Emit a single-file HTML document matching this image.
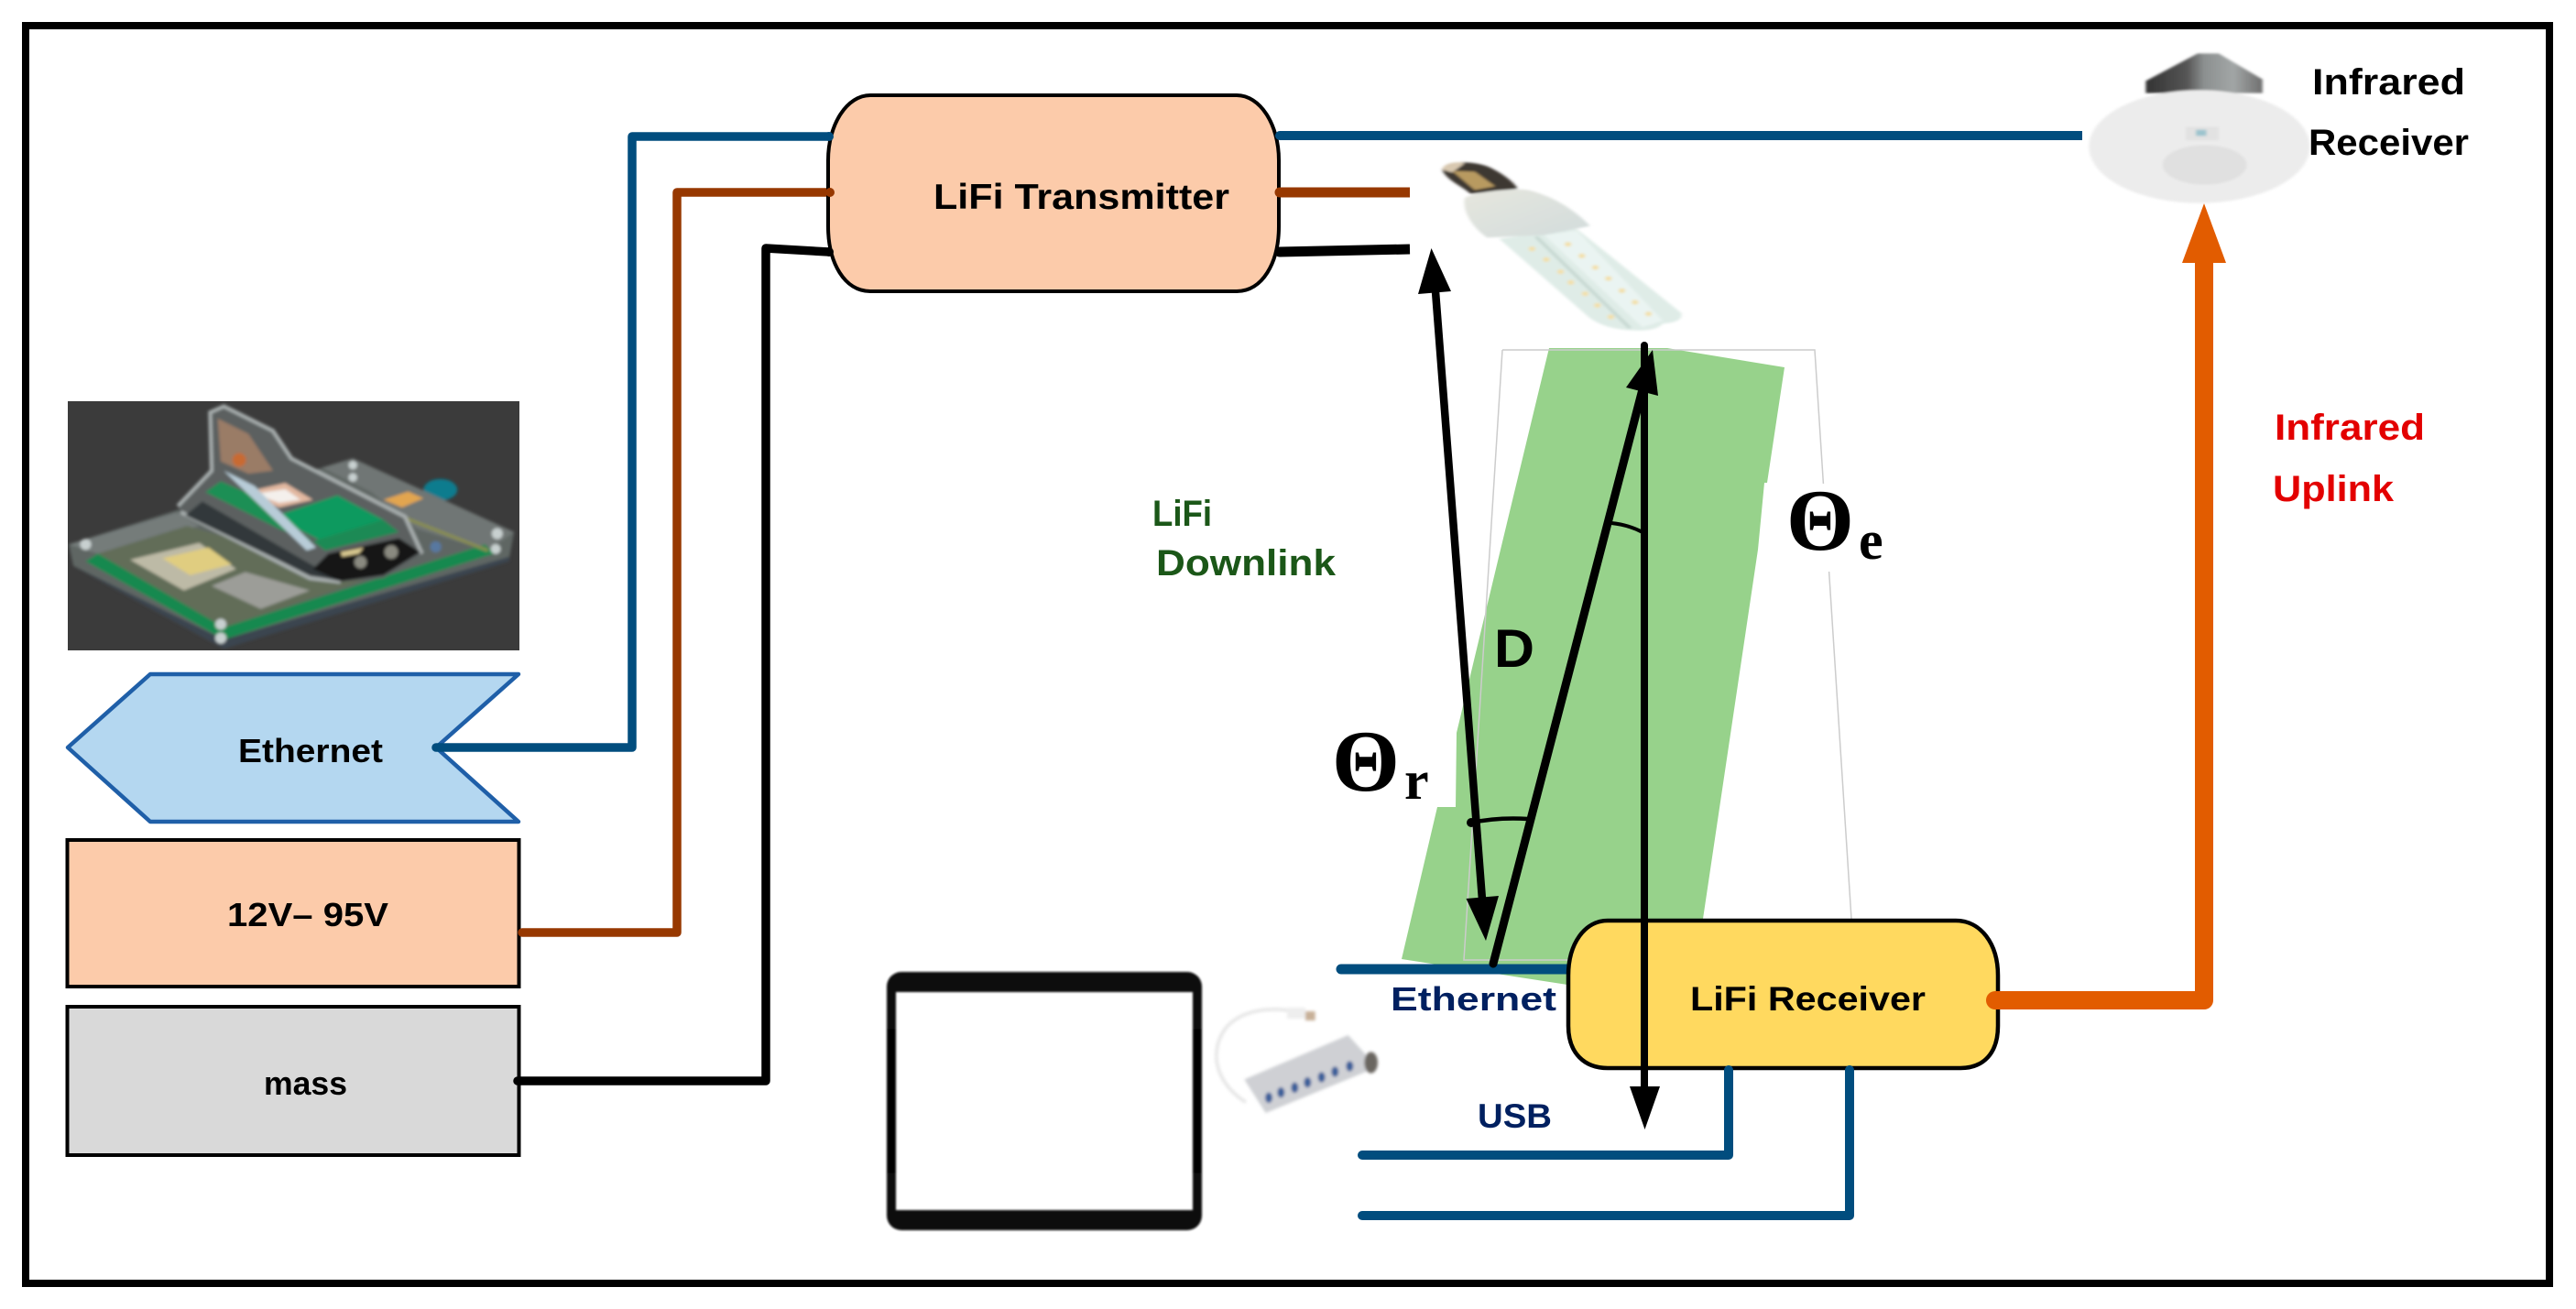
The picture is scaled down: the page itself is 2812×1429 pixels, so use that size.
<!DOCTYPE html>
<html>
<head>
<meta charset="utf-8">
<style>
html,body{margin:0;padding:0;background:#fff;width:2812px;height:1429px;overflow:hidden}
svg{display:block}
text{font-family:"Liberation Sans",sans-serif;font-weight:bold;fill:#000}
</style>
</head>
<body>
<svg width="2812" height="1429" viewBox="0 0 2812 1429" xmlns="http://www.w3.org/2000/svg">
<defs>
<filter id="b1" x="-5%" y="-5%" width="110%" height="110%"><feGaussianBlur stdDeviation="5"/></filter>
<filter id="b2" x="-5%" y="-5%" width="110%" height="110%"><feGaussianBlur stdDeviation="1"/></filter>
<filter id="b3" x="-5%" y="-5%" width="110%" height="110%"><feGaussianBlur stdDeviation="4"/></filter>
<linearGradient id="tab" x1="0" y1="0" x2="0" y2="1"><stop offset="0" stop-color="#0c0c0c"/><stop offset=".5" stop-color="#000"/><stop offset="1" stop-color="#0c0c0c"/></linearGradient>
<linearGradient id="irtop" x1="0" y1="0" x2="1" y2="0"><stop offset="0" stop-color="#333"/><stop offset=".35" stop-color="#555"/><stop offset=".5" stop-color="#8c9090"/><stop offset=".75" stop-color="#a2a6a6"/><stop offset="1" stop-color="#6f6f6f"/></linearGradient>
<linearGradient id="capg" x1="0" y1="0" x2="1" y2="1"><stop offset="0" stop-color="#e6e6de"/><stop offset="1" stop-color="#d2dcdc"/></linearGradient>
</defs>
<rect width="2812" height="1429" fill="#fff"/>
<rect x="28" y="28" width="2755" height="1373" fill="none" stroke="#000" stroke-width="8"/>

<!-- PCB photo -->
<rect x="74" y="438" width="493" height="272" fill="#3b3b3b"/>
<svg x="74" y="438" width="493" height="272" viewBox="74 438 493 272">
<g transform="translate(70,430) scale(.3353)" filter="url(#b1)">
<ellipse cx="1225" cy="312" rx="55" ry="35" fill="#0f7c8e"/>
<polygon points="15,490 370,378 840,240 940,210 1465,450 1450,530 520,830 30,560" fill="#5f6664"/>
<polygon points="840,240 940,210 1465,450 1380,510 1150,440 1000,320" fill="#6f7674"/>
<polygon points="15,490 370,385 440,430 110,520" fill="#747c7a"/>
<polygon points="110,520 400,430 1000,600 520,760" fill="#626d58"/>
<polygon points="70,545 110,520 520,760 1370,490 1400,520 520,800" fill="#15894f"/>
<polygon points="30,560 520,800 1450,530 1450,545 520,830" fill="#3a4450"/>
<polygon points="215,540 440,485 560,570 390,640" fill="#bdbaa6"/>
<polygon points="320,535 470,500 545,555 410,590" fill="#e0cd80"/>
<polygon points="480,625 590,580 800,640 640,700" fill="#9c9d98"/>
<polygon points="1040,345 1120,318 1170,340 1100,370" fill="#e2a550"/>
<polyline points="1100,400 1380,510" stroke="#8a8f50" stroke-width="10" fill="none"/>
<polygon points="370,365 480,250 475,60 520,40 680,120 740,210 1110,400 1165,520 1040,600 900,612 800,600 380,385" fill="#5b6161"/>
<polyline points="370,365 480,250 475,60 520,40 680,120 740,210 1110,400 1165,520" fill="none" stroke="#a8afaf" stroke-width="12"/>
<polyline points="380,385 800,600 900,612" fill="none" stroke="#a8afaf" stroke-width="12"/>
<polygon points="395,395 800,590 900,610 760,530 450,350" fill="#32373a"/>
<polygon points="500,80 600,130 680,250 600,260 510,220" fill="#9a7b66"/>
<circle cx="570" cy="215" r="22" fill="#c86a30"/>
<polygon points="460,320 510,285 650,345 690,395 810,480 700,440" fill="#1b8f55"/>
<polygon points="680,400 890,330 1040,410 840,480" fill="#0f9a5f"/>
<polygon points="810,480 1040,410 1090,450 850,510" fill="#1e8a55"/>
<polygon points="590,320 720,290 810,345 700,370" fill="#e2b8a0"/>
<polygon points="620,325 720,310 770,345 700,355" fill="#f4f0ec"/>
<polygon points="520,250 620,300 820,500 790,510" fill="#b8ccd8"/>
<polygon points="860,520 1090,470 1160,515 1040,590 900,610 810,570" fill="#121212"/>
<circle cx="1065" cy="515" r="22" fill="#8a8a80"/><circle cx="965" cy="548" r="20" fill="#8a8a80"/>
<polygon points="900,515 975,500 960,520 905,530" fill="#d8c890"/>
<g fill="#c8d0d0"><circle cx="70" cy="490" r="18"/><circle cx="510" cy="750" r="18"/><circle cx="510" cy="795" r="18"/><circle cx="1410" cy="455" r="18"/><circle cx="1405" cy="505" r="16"/><circle cx="940" cy="232" r="14"/><circle cx="940" cy="272" r="14"/></g>
<circle cx="1210" cy="498" r="18" fill="#5878a0"/>
</g>
</svg>

<!-- Left boxes -->
<polygon points="74,816 164,736 566,736 476,816 566,897 164,897" fill="#b4d7f0" stroke="#1f5fa8" stroke-width="4.5" stroke-linejoin="round"/>
<rect x="73.5" y="917" width="493" height="160" fill="#fccbaa" stroke="#000" stroke-width="4"/>
<rect x="73.5" y="1099" width="493" height="162" fill="#d9d9d9" stroke="#000" stroke-width="4"/>

<!-- Left wires -->
<polyline points="476,816 690,816 690,149 905,149" fill="none" stroke="#014d7e" stroke-width="9.5" stroke-linecap="round" stroke-linejoin="round"/>
<polyline points="570,1018 739,1018 739,210 907,210" fill="none" stroke="#973800" stroke-width="9.5" stroke-linecap="round" stroke-linejoin="round"/>
<polyline points="565,1180 836,1180 836,271 905,275" fill="none" stroke="#000" stroke-width="9.5" stroke-linecap="round" stroke-linejoin="round"/>

<!-- Transmitter -->
<path d="M950,104 H1350 C1375,104 1396,135 1396,175 V247 C1396,287 1378,318 1350,318 H950 C922,318 904,287 904,247 V175 C904,135 925,104 950,104 Z" fill="#fccbaa" stroke="#000" stroke-width="4"/>
<circle cx="905" cy="149" r="5" fill="#014d7e"/><circle cx="906" cy="210" r="5" fill="#973800"/><circle cx="905" cy="275" r="5" fill="#000"/>
<line x1="1397" y1="148" x2="2273" y2="148" stroke="#014d7e" stroke-width="10"/>
<circle cx="1397" cy="148" r="5" fill="#014d7e"/>
<line x1="1397" y1="210" x2="1539" y2="210" stroke="#973800" stroke-width="11"/>
<circle cx="1397" cy="210" r="5.5" fill="#973800"/>
<line x1="1397" y1="275" x2="1539" y2="272" stroke="#000" stroke-width="11"/>
<circle cx="1397" cy="275" r="5.5" fill="#000"/>

<!-- Bulb -->
<g transform="translate(1400,100) scale(.4464,.3333)" filter="url(#b3)">
<path d="M530,482 L720,450 L975,725 Q982,755 930,760 Q915,785 860,782 Q790,780 750,740 Z" fill="#dfecE7"/>
<path d="M640,470 L720,455 L930,750 L880,772 Z" fill="#eaf4f2"/>
<line x1="620" y1="475" x2="850" y2="775" stroke="#c6d8d2" stroke-width="9"/>
<g fill="#f3dfa8">
<circle cx="610" cy="515" r="8"/><circle cx="645" cy="550" r="8"/><circle cx="680" cy="590" r="8"/><circle cx="705" cy="625" r="8"/><circle cx="740" cy="662" r="8"/><circle cx="770" cy="700" r="8"/><circle cx="803" cy="738" r="8"/>
<circle cx="698" cy="500" r="8"/><circle cx="732" cy="538" r="8"/><circle cx="765" cy="576" r="8"/><circle cx="797" cy="612" r="8"/><circle cx="830" cy="652" r="8"/><circle cx="862" cy="690" r="8"/><circle cx="895" cy="728" r="8"/>
</g>
<path d="M390,255 C400,225 470,225 510,250 C540,270 565,295 575,318 L460,335 C440,310 400,290 390,255 Z" fill="#3c3733"/>
<path d="M390,255 C395,232 430,228 445,235 L415,265 Z" fill="#d8c8b0"/>
<polygon points="415,260 470,262 520,310 470,322" fill="#b89a60"/>
<path d="M445,350 C460,330 560,315 600,322 C670,345 720,395 752,440 L640,470 L500,478 C470,450 440,400 445,350 Z" fill="url(#capg)"/>
</g>

<!-- Beam -->
<polygon points="1691,380 1820,380 1832,382 1948,401 1929,527 1926,527 1919,600 1859,1003 1800,1100 1711,1075 1530,1047 1569,881 1589,881 1590,800 1638,600" fill="#97d28b"/>
<polyline points="1640,382 1981,382 2021,1003" fill="none" stroke="#cccccc" stroke-width="1.5"/>
<polyline points="1640,382 1598,1048 1715,1048" fill="none" stroke="#cccccc" stroke-width="1.5"/>
<rect x="1931" y="528" width="140" height="96" fill="#fff"/>
<rect x="1440" y="790" width="148" height="90" fill="#fff"/>

<!-- Receiver -->
<line x1="1464" y1="1058" x2="1720" y2="1058" stroke="#014d7e" stroke-width="11" stroke-linecap="round"/>
<path d="M1755,1005 H2135 C2162,1005 2181,1030 2181,1065 V1120 C2181,1150 2165,1166 2140,1166 H1755 C1730,1166 1712,1150 1712,1120 V1065 C1712,1030 1730,1005 1755,1005 Z" fill="#ffd95f" stroke="#000" stroke-width="4.5"/>

<!-- Arrows -->
<line x1="1567" y1="318" x2="1618" y2="982" stroke="#000" stroke-width="8.5"/>
<polygon points="1562.5,271 1548,321 1584,318" fill="#000"/>
<polygon points="1622,1027 1600.5,981 1636,978" fill="#000"/>
<line x1="1630" y1="1052" x2="1793" y2="425" stroke="#000" stroke-width="9" stroke-linecap="round"/>
<polygon points="1804,382 1775,423 1810,432" fill="#000"/>
<line x1="1795" y1="377" x2="1795" y2="1190" stroke="#000" stroke-width="8" stroke-linecap="round"/>
<polygon points="1795.5,1233 1779,1186 1812,1186" fill="#000"/>
<path d="M1759,571 Q1778,573 1793,581" fill="none" stroke="#000" stroke-width="4"/>
<path d="M1607,898 Q1635,892 1668,894" fill="none" stroke="#000" stroke-width="4.5"/>
<circle cx="1606" cy="898" r="5" fill="#000"/>

<!-- USB / ethernet lines -->
<polyline points="1887,1168 1887,1261 1487,1261" fill="none" stroke="#014d7e" stroke-width="10" stroke-linejoin="round" stroke-linecap="round"/>
<polyline points="2019,1168 2019,1327 1487,1327" fill="none" stroke="#014d7e" stroke-width="10" stroke-linejoin="round" stroke-linecap="round"/>

<!-- Orange uplink -->
<polyline points="2178,1092 2406,1092 2406,280" fill="none" stroke="#e25c00" stroke-width="20" stroke-linejoin="round" stroke-linecap="round"/>
<polygon points="2406,222 2382,287 2430,287" fill="#e25c00"/>

<!-- Tablet -->
<rect x="968" y="1061" width="344" height="282" rx="16" fill="url(#tab)" filter="url(#b2)"/>
<rect x="978" y="1083" width="324" height="238" fill="#fff" filter="url(#b2)"/>

<!-- Hub -->
<g transform="translate(1310,1090) scale(.3333)" filter="url(#b1)">
<path d="M345,50 C250,25 150,30 90,90 C30,160 40,270 150,340" fill="none" stroke="#e6e6e6" stroke-width="11"/>
<rect x="285" y="30" width="60" height="36" fill="#eeeeee"/>
<rect x="345" y="42" width="32" height="30" fill="#c8b098"/>
<polygon points="145,265 485,120 580,225 215,375" fill="#cfd0d4"/>
<ellipse cx="560" cy="210" rx="22" ry="35" fill="#6b6660"/>
<g fill="#3b5f9a">
<ellipse cx="225" cy="325" rx="12" ry="17"/><ellipse cx="265" cy="308" rx="12" ry="17"/><ellipse cx="310" cy="292" rx="12" ry="17"/><ellipse cx="352" cy="275" rx="12" ry="17"/><ellipse cx="398" cy="258" rx="12" ry="17"/><ellipse cx="442" cy="240" rx="12" ry="17"/><ellipse cx="490" cy="222" rx="12" ry="17"/>
</g>
</g>

<!-- IR sensor -->
<g transform="translate(2200,30) scale(.3827,.3333)" filter="url(#b3)">
<polygon points="372,215 372,175 520,85 580,85 705,170 705,215" fill="url(#irtop)"/>
<ellipse cx="525" cy="390" rx="315" ry="185" fill="#ececec"/>
<ellipse cx="540" cy="450" rx="120" ry="65" fill="#e0e0e0"/>
<rect x="485" y="325" width="95" height="45" fill="#e2e2e2"/>
<rect x="515" y="335" width="30" height="20" fill="#9cc4ce"/>
</g>

<!-- Labels -->
<text x="1019" y="228" font-size="39" textLength="323" lengthAdjust="spacingAndGlyphs">LiFi Transmitter</text>
<text x="1845" y="1103" font-size="37" textLength="257" lengthAdjust="spacingAndGlyphs">LiFi Receiver</text>
<text x="260" y="832" font-size="36" textLength="158" lengthAdjust="spacingAndGlyphs">Ethernet</text>
<text x="248" y="1011" font-size="36" textLength="176" lengthAdjust="spacingAndGlyphs">12V– 95V</text>
<text x="288" y="1195" font-size="36" textLength="91" lengthAdjust="spacingAndGlyphs">mass</text>
<text x="2524" y="103" font-size="40" textLength="167" lengthAdjust="spacingAndGlyphs">Infrared</text>
<text x="2520" y="169" font-size="40" textLength="175" lengthAdjust="spacingAndGlyphs">Receiver</text>
<text x="2483" y="480" font-size="40" textLength="164" lengthAdjust="spacingAndGlyphs" style="fill:#e30000">Infrared</text>
<text x="2481" y="547" font-size="40" textLength="132" lengthAdjust="spacingAndGlyphs" style="fill:#e30000">Uplink</text>
<text x="1258" y="574" font-size="40" textLength="65" lengthAdjust="spacingAndGlyphs" style="fill:#1b5718">LiFi</text>
<text x="1262" y="628" font-size="40" textLength="196" lengthAdjust="spacingAndGlyphs" style="fill:#1b5718">Downlink</text>
<text x="1518" y="1103" font-size="36" textLength="181" lengthAdjust="spacingAndGlyphs" style="fill:#002060">Ethernet</text>
<text x="1613" y="1231" font-size="37" textLength="81" lengthAdjust="spacingAndGlyphs" style="fill:#002060">USB</text>
<text x="1631" y="728" font-size="58" textLength="44" lengthAdjust="spacingAndGlyphs">D</text>
<text x="1950" y="600" font-size="95" style="font-family:'Liberation Serif',serif">Θ</text>
<text x="2029" y="610" font-size="60" style="font-family:'Liberation Serif',serif">e</text>
<text x="1454" y="863" font-size="95" style="font-family:'Liberation Serif',serif">Θ</text>
<text x="1533" y="872" font-size="60" style="font-family:'Liberation Serif',serif">r</text>
</svg>
</body>
</html>
